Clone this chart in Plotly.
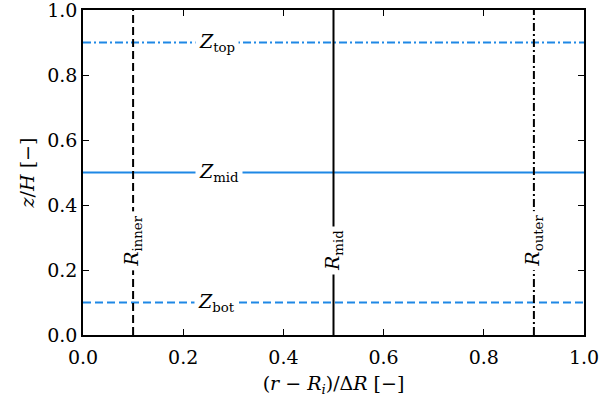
import plotly.graph_objects as go

# Reference heights (z/H) and radial positions ((r-R_i)/ΔR)
z_levels = [0.1, 0.5, 0.9]
z_names = ["bot", "mid", "top"]
z_dashes = ["8px,4px", "solid", "8px,3px,2px,3px"]
z_label_x = [0.267, 0.272, 0.268]

r_levels = [0.1, 0.5, 0.9]
r_names = ["inner", "mid", "outer"]
r_dashes = ["8px,4px", "solid", "8px,3px,2px,3px"]
r_label_y = [0.29, 0.26, 0.29]

tick_vals = [0.0, 0.2, 0.4, 0.6, 0.8, 1.0]
tick_text = ["0.0", "0.2", "0.4", "0.6", "0.8", "1.0"]

BLUE = "#1E88E5"
FONT = "DejaVu Serif"

fig = go.Figure()

for z, d in zip(z_levels, z_dashes):
    fig.add_trace(go.Scatter(x=[0, 1], y=[z, z], mode="lines",
                             line=dict(color=BLUE, width=2, dash=d),
                             hoverinfo="skip", showlegend=False))
for r, d in zip(r_levels, r_dashes):
    fig.add_trace(go.Scatter(x=[r, r], y=[0, 1], mode="lines",
                             line=dict(color="black", width=2, dash=d),
                             hoverinfo="skip", showlegend=False))

annotations = []
for z, n, lx in zip(z_levels, z_names, z_label_x):
    annotations.append(dict(x=lx, y=z, xref="x", yref="y",
                            text=f"<i>Z</i><sub>{n}</sub>", showarrow=False,
                            bgcolor="white", borderpad=3,
                            font=dict(family=FONT, size=19, color="black")))
for r, n, ly in zip(r_levels, r_names, r_label_y):
    annotations.append(dict(x=r, y=ly, xref="x", yref="y",
                            text=f"<i>R</i><sub>{n}</sub>", showarrow=False,
                            textangle=-90, bgcolor="white", borderpad=3,
                            font=dict(family=FONT, size=19, color="black")))

axis_common = dict(range=[0, 1], tickvals=tick_vals, ticktext=tick_text,
                   ticks="inside", ticklen=6, tickwidth=1.2, tickcolor="black",
                   showline=True, linecolor="black", linewidth=1.5, mirror="ticks",
                   showgrid=False, zeroline=False, automargin=False,
                   ticklabeloverflow="allow",
                   tickfont=dict(family=FONT, size=19, color="black"))

fig.update_layout(
    width=599, height=404,
    margin=dict(l=83, r=15, t=10, b=69),
    plot_bgcolor="white", paper_bgcolor="white",
    font=dict(family=FONT, size=19, color="black"),
    xaxis=dict(**axis_common, ticklabelstandoff=4,
               title=dict(text="(<i>r</i> − <i>R<sub>i</sub></i>)/Δ<i>R</i> [−]",
                          font=dict(family=FONT, size=19, color="black"),
                          standoff=10)),
    yaxis=dict(**axis_common,
               title=dict(text="<i>z</i>/<i>H</i> [−]",
                          font=dict(family=FONT, size=19, color="black"),
                          standoff=8)),
    annotations=annotations,
)

fig.write_html("out.html")
